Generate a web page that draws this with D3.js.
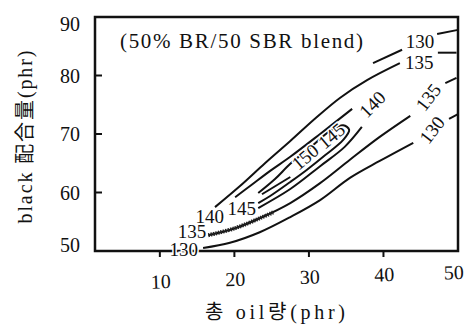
<!DOCTYPE html>
<html>
<head>
<meta charset="utf-8">
<script src="https://cdn.jsdelivr.net/npm/d3@7"></script>
<style>
  body { margin: 0; background: #fff; }
</style>
</head>
<body>
<div id="body"></div>
<script>
// tick values
var xTicks = [10, 20, 30, 40, 50];
var yTicks = [50, 60, 70, 80, 90];

// contour lines, [oil phr, black phr]
var c130Lower = [[15.8, 50.5], [19.4, 51.4], [23.4, 53.2], [27.5, 55.8], [31.5, 58.7], [35.5, 62.5], [39.5, 65.4], [44.0, 68.5]];
var c130RightEnd = [[48.8, 72.6], [50, 73.4]];
var c130TopLeft = [[38.6, 82.1], [42.5, 84.4]];
var c130TopRight = [[47.2, 87.1], [50, 87.8]];
var c135Lower = [[16.5, 52.7], [20.1, 53.9], [23.4, 55.6], [27.5, 58.2], [31.5, 61.6], [35.5, 65.6], [39.5, 69.5], [43.6, 73.1]];
var c135Hatch = [[16.5, 52.7], [20.1, 53.9], [23.4, 55.6], [25.2, 56.6]];
var c135RightEnd = [[48.3, 78.7], [49.8, 79.6]];
var c135Upper = [[17.4, 57.5], [20.75, 61.1], [24.1, 65.0], [27.5, 68.8], [30.8, 72.6], [34.2, 76.2], [37.8, 79.2], [42.2, 82.1]];
var c135TopEnd = [[47.3, 83.9], [49.8, 83.9]];
var c140Upper = [[20.1, 59.2], [22.1, 61.1], [24.8, 63.7], [27.5, 66.1], [31.5, 70.0], [35.8, 74.3]];
var c140Lower = [[23.2, 57.35], [27.5, 60.6], [31.5, 64.5], [34.8, 67.8], [37.1, 71.2]];
var c145Loop = [[23.2, 59.9], [25.45, 62.3], [27.5, 64.9], [30.1, 67.6], [32.8, 70.5], [34.6, 71.5], [35.4, 70.7],
                [34.6, 69.0], [32.2, 66.4], [29.7, 63.85], [27.5, 61.8], [24.8, 59.4], [23.2, 58.2]];
var c150 = [[23.7, 59.7], [27.5, 62.65]];

// contour labels
var labelText  = ["130", "135", "140", "145", "150", "145", "140", "135", "130", "130", "135"];
var labelX     = [13.2, 14.3, 16.7, 21.0, 29.5, 33.0, 38.5, 46.0, 46.5, 44.9, 44.8];
var labelY     = [50.3, 53.4, 56.0, 57.35, 66.1, 69.7, 75.1, 76.3, 70.7, 85.9, 82.3];
var labelAngle = [0, 0, 0, 0, -40, -40, -45, -52, -52, 0, 0];

var width = 472, height = 329;
var serif = '"Liberation Serif", "Times New Roman", "DejaVu Serif", "Noto Sans CJK KR", serif';

var svg = d3.select('#body')
  .append('svg')
  .attr('width', width)
  .attr('height', height)
  .style('background', '#fff');

var x = d3.scaleLinear().domain([1.3, 50]).range([95, 458]);
var y = d3.scaleLinear().domain([50, 90]).range([251, 17]);

var line = d3.line()
  .x(function(d) { return x(d[0]); })
  .y(function(d) { return y(d[1]); })
  .curve(d3.curveCatmullRom);

// frame
svg.append('rect')
  .attr('x', x(1.3))
  .attr('y', y(90))
  .attr('width', x(50) - x(1.3))
  .attr('height', y(50) - y(90))
  .style('fill', 'none')
  .style('stroke', '#111')
  .style('stroke-width', 2.5);

// left ticks point inward, bottom ticks point outward
svg.append('g')
  .selectAll('line')
  .data(yTicks.slice(1, 4))
  .enter()
  .append('line')
  .attr('x1', x(1.3)).attr('x2', x(1.3) + 7)
  .attr('y1', function(d) { return y(d); })
  .attr('y2', function(d) { return y(d); })
  .style('stroke', '#111').style('stroke-width', 2);

svg.append('g')
  .selectAll('line')
  .data(xTicks.slice(0, 4))
  .enter()
  .append('line')
  .attr('x1', function(d) { return x(d); })
  .attr('x2', function(d) { return x(d); })
  .attr('y1', y(50)).attr('y2', y(50) + 6)
  .style('stroke', '#111').style('stroke-width', 2);

// contour lines
var lines = [c130Lower, c130RightEnd, c130TopLeft, c130TopRight, c135Lower, c135RightEnd,
             c135Upper, c135TopEnd, c140Upper, c140Lower, c145Loop, c150];
svg.append('g')
  .selectAll('path')
  .data(lines)
  .enter()
  .append('path')
  .attr('d', line)
  .style('fill', 'none')
  .style('stroke', '#111')
  .style('stroke-width', 2);

// the hatched start of the lower 135 line
svg.append('path')
  .attr('d', line(c135Hatch))
  .style('fill', 'none')
  .style('stroke', '#222')
  .style('stroke-width', 4)
  .style('stroke-dasharray', '1.5 1');

// contour labels, with a white halo so they cut the lines
svg.append('g')
  .selectAll('text')
  .data(labelText)
  .enter()
  .append('text')
  .attr('transform', function(d, i) {
    return 'translate(' + x(labelX[i]) + ',' + y(labelY[i]) + ') rotate(' + labelAngle[i] + ')';
  })
  .attr('text-anchor', 'middle')
  .attr('dy', '0.35em')
  .style('font-family', serif)
  .style('font-size', '19px')
  .style('fill', '#111')
  .style('stroke', '#fff')
  .style('stroke-width', 3)
  .style('paint-order', 'stroke')
  .text(function(d) { return d; });

// tick labels
svg.append('g')
  .selectAll('text')
  .data(yTicks)
  .enter()
  .append('text')
  .attr('x', 80)
  .attr('y', function(d) { return Math.min(Math.max(y(d), 24), 245); })
  .attr('dy', '0.35em')
  .attr('text-anchor', 'end')
  .style('font-family', serif)
  .style('font-size', '20px')
  .style('fill', '#111')
  .text(function(d) { return d; });

// the scan is a little skewed along the bottom
svg.append('g')
  .attr('transform', 'rotate(-1.8, 300, 280)')
  .selectAll('text')
  .data(xTicks)
  .enter()
  .append('text')
  .attr('x', function(d) { return d === 50 ? x(d) - 4 : x(d) + 1; })
  .attr('y', 284)
  .attr('text-anchor', 'middle')
  .style('font-family', serif)
  .style('font-size', '20px')
  .style('fill', '#111')
  .text(function(d) { return d; });

// titles
svg.append('text')
  .attr('x', 120)
  .attr('y', 48)
  .attr('textLength', 243)
  .attr('lengthAdjust', 'spacing')
  .style('font-family', serif)
  .style('font-size', '21px')
  .style('fill', '#111')
  .text('(50% BR/50 SBR blend)');

svg.append('text')
  .attr('x', 205)
  .attr('y', 319)
  .attr('textLength', 140)
  .attr('lengthAdjust', 'spacing')
  .style('font-family', serif)
  .style('font-size', '20px')
  .style('fill', '#111')
  .text('총 oil량(phr)');

svg.append('text')
  .attr('transform', 'translate(25,137) rotate(-90)')
  .attr('text-anchor', 'middle')
  .attr('dy', '0.35em')
  .attr('textLength', 173)
  .attr('lengthAdjust', 'spacing')
  .style('font-family', serif)
  .style('font-size', '20px')
  .style('fill', '#111')
  .text('black 配合量(phr)');
</script>
</body>
</html>
